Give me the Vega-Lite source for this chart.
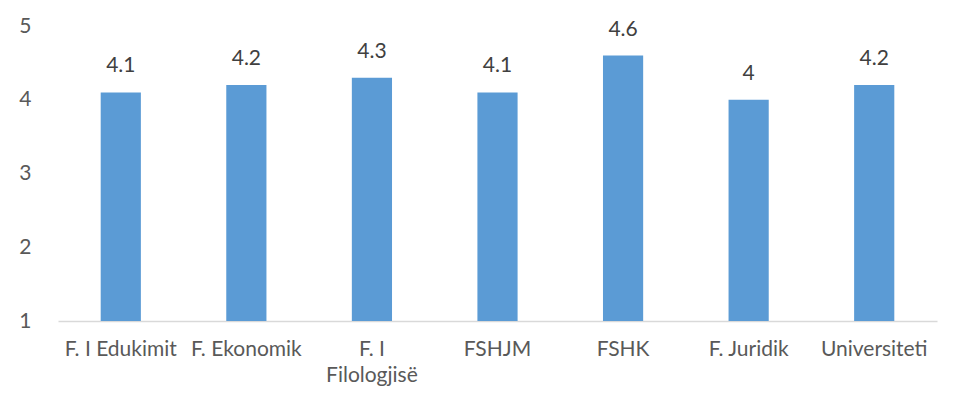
{
  "$schema": "https://vega.github.io/schema/vega-lite/v6.json",
  "width": 879,
  "height": 295,
  "autosize": {"type": "none"},
  "padding": {"left": 58, "top": 26, "right": 22, "bottom": 87},
  "background": "white",
  "config": {"view": {"stroke": null}, "font": "Lato"},
  "data": {"values": [
    {"faculty": "F. I Edukimit", "value": 4.1},
    {"faculty": "F. Ekonomik", "value": 4.2},
    {"faculty": "F. I Filologjisë", "value": 4.3},
    {"faculty": "FSHJM", "value": 4.1},
    {"faculty": "FSHK", "value": 4.6},
    {"faculty": "F. Juridik", "value": 4.0},
    {"faculty": "Universiteti", "value": 4.2}
  ]},
  "encoding": {
    "x": {"field": "faculty", "type": "nominal", "sort": null,
      "scale": {"paddingInner": 0.68, "paddingOuter": 0.34},
      "axis": {"title": null, "labelAngle": 0, "ticks": false, "domainColor": "#d9d9d9", "domainWidth": 1.5,
        "labelFontSize": 21, "labelColor": "#595959", "labelPadding": 17, "labelLineHeight": 26,
        "labelExpr": "datum.label == 'F. I Filologjisë' ? ['F. I', 'Filologjisë'] : datum.label"}},
    "y": {"field": "value", "type": "quantitative",
      "scale": {"domain": [1, 5], "zero": false, "nice": false},
      "axis": {"title": null, "values": [1, 2, 3, 4, 5], "domain": false, "ticks": false, "grid": false,
        "labelFontSize": 21, "labelColor": "#595959", "labelPadding": 27}}
  },
  "layer": [
    {"mark": {"type": "bar", "color": "#5B9BD5"}, "encoding": {"y2": {"datum": 1}}},
    {"mark": {"type": "text", "fontSize": 21, "color": "#404040", "baseline": "middle", "dy": -26},
      "encoding": {"text": {"field": "value", "type": "quantitative", "format": ".2~f"}}}
  ]
}
